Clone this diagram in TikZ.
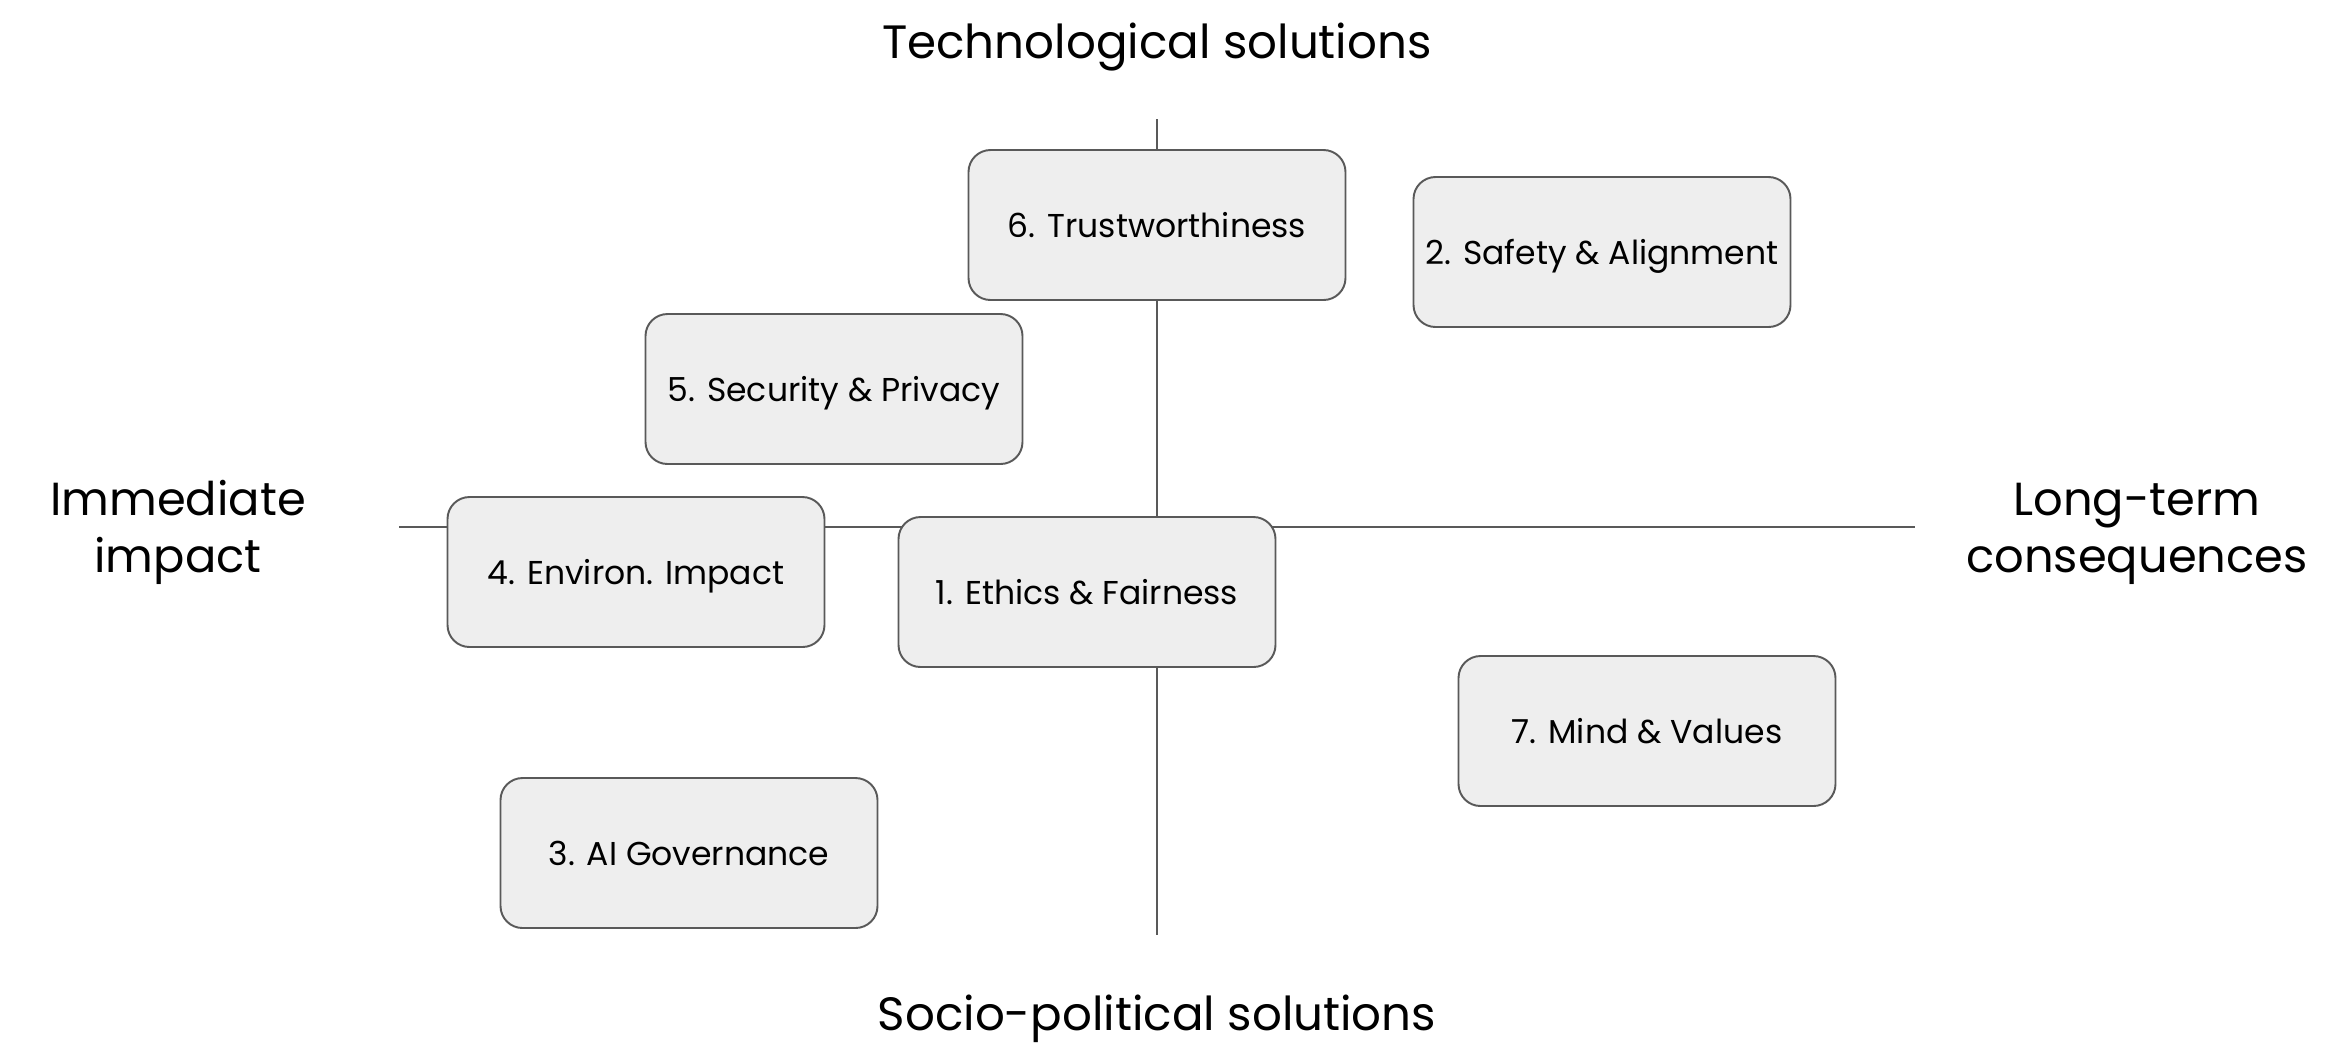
\documentclass[tikz,border=0pt]{standalone}
\usepackage{fontspec}
\setmainfont{Poppins}
\definecolor{boxfill}{HTML}{EEEEEE}
\definecolor{boxline}{HTML}{595959}
\definecolor{axisline}{HTML}{595959}
\tikzset{
  topic/.style={draw=boxline, line width=0.55pt, fill=boxfill, rounded corners=2.2mm,
    minimum width=37.7mm, minimum height=15mm, inner sep=0pt, text depth=0pt,
    font=\fontsize{9.4}{11}\selectfont},
  axis/.style={draw=axisline, line width=0.55pt},
  heading/.style={font=\fontsize{13.3}{15}\selectfont, inner sep=0pt},
  sidelabel/.style={font=\fontsize{13.2}{16.2}\selectfont, align=center, inner sep=0pt},
}
\begin{document}
\begin{tikzpicture}[x=0.1mm, y=-0.1mm]
\useasboundingbox (0,0) rectangle (2336,1060);
% axes
\coordinate (vtop) at (1157,119);
\coordinate (vbot) at (1157,935);
\coordinate (hleft) at (399,527);
\coordinate (hright) at (1915,527);
\draw[axis] (vtop) -- (vbot);
\draw[axis] (hleft) -- (hright);
% boxes
\node[topic] (b6) at (1157,225) {6. Trustworthiness};
\node[topic] (b2) at (1602,252) {2. Safety \& Alignment};
\node[topic] (b5) at (834,389) {5. Security \& Privacy};
\node[topic] (b4) at (636,572) {4. Environ. Impact};
\node[topic] (b1) at (1087,592) {1. Ethics \& Fairness};
\node[topic] (b7) at (1647,731) {7. Mind \& Values};
\node[topic] (b3) at (689,853) {3. AI Governance};
% labels
\node[heading, anchor=base] (tech) at (1157,58) {Technological solutions};
\node[heading, anchor=base] (socio) at (1157,1030) {Socio-political solutions};
\node[sidelabel, anchor=base] (imm) at (178,572) {Immediate\\impact};
\node[sidelabel, anchor=base] (long) at (2137,572) {Long-term\\consequences};
\end{tikzpicture}
\end{document}
